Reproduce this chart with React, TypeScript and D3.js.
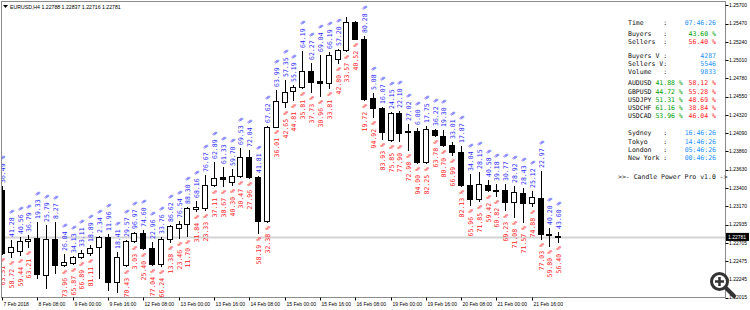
import React from "react";
import * as d3 from "d3";

// ---------- DATA ----------
const opens = [1.23372,1.22591,1.22604,1.22730,1.22768,1.22301,1.22755,1.22427,1.22453,1.22528,1.22579,1.22654,1.22780,1.22213,1.22427,1.22730,1.22831,1.22642,1.22440,1.22755,1.22894,1.22944,1.23139,1.23146,1.23435,1.23536,1.23473,1.23549,1.23788,1.23536,1.22982,1.24166,1.24481,1.24620,1.24670,1.24872,1.24746,1.24721,1.25023,1.25137,1.25490,1.25275,1.24532,1.24406,1.24003,1.24343,1.24116,1.24116,1.23725,1.24129,1.24053,1.23940,1.23851,1.23435,1.23259,1.23435,1.23360,1.23372,1.23221,1.23335,1.23209,1.23272,1.22818,1.22788];
const highs = [1.23423,1.22742,1.22780,1.22805,1.22969,1.22931,1.22969,1.22566,1.22541,1.22616,1.22679,1.22793,1.22818,1.22591,1.22742,1.22843,1.22868,1.22717,1.22780,1.22931,1.22982,1.23158,1.23234,1.23561,1.23725,1.23662,1.23637,1.23902,1.23877,1.23549,1.24179,1.24633,1.24759,1.24696,1.25124,1.24973,1.25074,1.25112,1.25149,1.25553,1.25502,1.25313,1.24595,1.24418,1.24355,1.24368,1.24204,1.24154,1.24179,1.24141,1.24129,1.23977,1.23927,1.23574,1.23599,1.23498,1.23448,1.23448,1.23423,1.23398,1.23360,1.23612,1.22894,1.22837];
const lows = [1.22566,1.22528,1.22553,1.22654,1.22263,1.22137,1.22327,1.22415,1.22440,1.22516,1.22553,1.22263,1.22112,1.22087,1.22415,1.22717,1.22629,1.22427,1.22415,1.22717,1.22768,1.22793,1.23108,1.23120,1.23423,1.23423,1.23435,1.23536,1.23524,1.22831,1.22969,1.24179,1.24418,1.24507,1.24658,1.24607,1.24557,1.24658,1.24973,1.25124,1.25270,1.24507,1.24292,1.24015,1.23990,1.23990,1.23877,1.23712,1.23712,1.24053,1.23927,1.23814,1.23423,1.23183,1.23234,1.23360,1.23297,1.23120,1.23032,1.22969,1.23171,1.22755,1.22667,1.22716];
const closes = [1.22579,1.22654,1.22730,1.22755,1.22314,1.22755,1.22427,1.22465,1.22522,1.22579,1.22642,1.22780,1.22213,1.22528,1.22730,1.22831,1.22642,1.22440,1.22755,1.22919,1.22944,1.23146,1.23152,1.23435,1.23524,1.23511,1.23549,1.23788,1.23536,1.22982,1.24166,1.24494,1.24607,1.24670,1.24872,1.24733,1.24721,1.25074,1.25137,1.25490,1.25275,1.24519,1.24406,1.24103,1.24343,1.24091,1.24103,1.23725,1.24141,1.24066,1.23940,1.23851,1.23435,1.23259,1.23448,1.23372,1.23366,1.23221,1.23347,1.23209,1.23284,1.22818,1.22805,1.22781];
const buyers = [36.49,41.28,40.56,36.79,19.33,25.79,8.27,26.04,34.13,33.11,18.89,2.34,11.96,18.41,29.57,96.97,74.60,22.96,33.76,86.62,76.54,88.30,68.16,76.67,62.89,61.33,59.70,69.53,72.04,41.81,67.62,63.99,57.35,55.19,64.19,62.27,69.04,66.19,57.20,66.43,59.48,80.28,5.08,16.07,24.15,22.10,27.02,6.00,17.75,36.22,19.30,33.01,17.87,34.04,28.15,40.58,39.18,30.77,28.92,28.43,25.12,22.97,40.20,43.60];
const sellers = [63.51,58.72,59.44,63.21,80.67,74.21,91.73,73.96,65.87,66.89,81.11,97.66,88.04,81.59,70.43,3.03,25.40,77.04,66.24,13.38,23.46,11.70,31.84,23.33,37.11,38.67,40.30,30.47,27.96,58.19,32.38,36.01,42.65,44.81,35.81,37.73,30.96,33.81,42.80,33.57,40.52,19.72,94.92,83.93,75.85,77.90,72.98,94.00,82.25,63.78,80.70,66.99,82.13,65.96,71.85,59.42,60.82,69.23,71.08,71.57,74.88,77.03,59.80,56.40];

const priceTicks = [1.25700,1.25470,1.25240,1.25010,1.24780,1.24550,1.24320,1.24090,1.23860,1.23630,1.23400,1.23170,1.22935,1.22705,1.22475,1.22245,1.22015];
const dateLabels = ["7 Feb 2018","8 Feb 08:00","9 Feb 00:00","9 Feb 16:00","12 Feb 08:00","13 Feb 00:00","13 Feb 16:00","14 Feb 08:00","15 Feb 00:00","15 Feb 16:00","16 Feb 08:00","19 Feb 00:00","19 Feb 16:00","20 Feb 08:00","21 Feb 00:00","21 Feb 16:00"];
const dateLabelStep = 4;

const symbolTitle = "EURUSD,H4";
const currentPrice = 1.22781;

const panelTime = "07:46:26";
const panelBuyers = 43.60;
const panelSellers = 56.40;
const panelBuyersV = 4287;
const panelSellersV = 5546;
const panelVolume = 9833;
const pairNames = ["AUDUSD","GBPUSD","USDJPY","USDCHF","USDCAD"];
const pairBuy = [41.88,44.72,51.31,61.16,53.96];
const pairSell = [58.12,55.28,48.69,38.84,46.04];
const sessionNames = ["Sydney","Tokyo","London","New York"];
const sessionTimes = ["16:46:26","14:46:26","05:46:26","00:46:26"];
const footerText = ">>- Candle Power Pro v1.0 ->";

// ---------- LAYOUT ----------
const W = 750, H = 310;
const L = 1.5, R = 725.5, T = 1.5, B = 297.5;
const MONO = "'DejaVu Sans Mono', 'Liberation Mono', monospace";
const SANS = "'Liberation Sans', Arial, sans-serif";
const BLUE = "#2a2aff";
const RED = "#ff1a1a";
const GREEN = "#00a000";
const DBLUE = "#1e90ff";
const LABEL_FS = 6.5;

export default function App() {
  const n = opens.length;
  const x = d3.scaleLinear().domain([0, 63]).range([2, 2 + 8.83 * 63]);
  const y = d3.scaleLinear().domain([1.22015, 1.257]).range([297.7, 5.3]);
  const cw = 0.602 * LABEL_FS;
  const px = 628;
  const colonX = px + 9 * cw;
  const valEnd = 716;

  const fmt = (v: number) => v.toFixed(2) + " %";

  const candles = d3.range(n).map((i) => {
    const cx = Math.round(x(i));
    const o = opens[i], c = closes[i];
    const yTop = Math.round(y(Math.max(o, c)));
    const yBot = Math.round(y(Math.min(o, c)));
    const yH = Math.round(y(highs[i]));
    const yL = Math.round(y(lows[i]));
    const bull = c > o;
    const bTxt = fmt(buyers[i]);
    const sTxt = fmt(sellers[i]);
    const bTop = yH - 3 - bTxt.length * cw;
    const sBot = yL + 4 + sTxt.length * cw;
    return (
      <g key={i}>
        <line x1={cx + 0.5} x2={cx + 0.5} y1={yH} y2={yL + 1} stroke="#000" strokeWidth={1} />
        {yBot - yTop >= 1 ? (
          <rect x={cx - 2.5} y={yTop + 0.5} width={5} height={yBot - yTop} fill={bull ? "#fff" : "#000"} stroke="#000" strokeWidth={1} />
        ) : (
          <line x1={cx - 3} x2={cx + 3} y1={yTop + 0.5} y2={yTop + 0.5} stroke="#000" strokeWidth={1} />
        )}
        {bTop >= T - 1 && (
          <text transform={`translate(${cx + 0.5},${yH - 3}) rotate(-90)`} dy="0.35em" fontFamily={MONO} fontSize={LABEL_FS} fill={BLUE} textAnchor="start">{bTxt}</text>
        )}
        {sBot <= B + 1 && (
          <text transform={`translate(${cx + 0.5},${yL + 4}) rotate(-90)`} dy="0.35em" fontFamily={MONO} fontSize={LABEL_FS} fill={RED} textAnchor="end">{sTxt}</text>
        )}
      </g>
    );
  });

  const rowY = {
    time: 23, buyers: 34, sellers: 42, bv: 56, sv: 64, vol: 72,
    pair0: 83, pairStep: 8.3, sess0: 133, sessStep: 8.3, footer: 177,
  };

  const labelRow = (label: string, value: string, color: string, yy: number, key: string) => (
    <g key={key} fontFamily={MONO} fontSize={LABEL_FS}>
      <text x={px} y={yy} dy="0.35em" fill="#111">{label}</text>
      <text x={colonX} y={yy} dy="0.35em" fill="#111">:</text>
      <text x={valEnd} y={yy} dy="0.35em" fill={color} textAnchor="end">{value}</text>
    </g>
  );

  const cy = y(currentPrice);

  return (
    <svg width={W} height={H} style={{ position: "absolute", left: 0, top: 0, background: "#fff" }}>
      <defs>
        <clipPath id="plot">
          <rect x={L + 0.5} y={T + 0.5} width={R - L - 1} height={B - T - 1} />
        </clipPath>
      </defs>
      <rect x={0} y={0} width={W} height={H} fill="#fff" />

      {/* current price line */}
      <line x1={L} x2={R} y1={Math.round(cy) + 0.5} y2={Math.round(cy) + 0.5} stroke="#d4d4d4" strokeWidth={2} />

      <g clipPath="url(#plot)">{candles}</g>

      {/* frame */}
      <rect x={L} y={T} width={R - L} height={B - T} fill="none" stroke="#8c8c8c" strokeWidth={1} />

      {/* header */}
      <path d="M3,5 L8,5 L5.5,8 Z" fill="#000" />
      <text x={10} y={7} dy="0.35em" fontFamily={SANS} fontSize={5.2} fill="#000">
        {`${symbolTitle}  ${opens[n - 1].toFixed(5)} ${highs[n - 1].toFixed(5)} ${lows[n - 1].toFixed(5)} ${closes[n - 1].toFixed(5)}`}
      </text>

      {/* right axis */}
      {priceTicks.map((p, i) => (
        <g key={i}>
          <line x1={R} x2={R + 3} y1={Math.round(y(p)) + 0.5} y2={Math.round(y(p)) + 0.5} stroke="#000" strokeWidth={1} />
          <text x={729} y={y(p)} dy="0.35em" fontFamily={SANS} fontSize={5} fill="#000">{p.toFixed(5)}</text>
        </g>
      ))}
      <rect x={726} y={cy - 4} width={23} height={8} fill="#000" />
      <text x={728} y={cy} dy="0.35em" fontFamily={SANS} fontSize={5} fill="#fff">{currentPrice.toFixed(5)}</text>

      {/* bottom axis */}
      {dateLabels.map((d, k) => {
        const xx = Math.round(x(k * dateLabelStep)) + 0.5;
        return (
          <g key={k}>
            <line x1={xx} x2={xx} y1={B} y2={B + 3} stroke="#000" strokeWidth={1} />
            <text x={xx + 1} y={304} dy="0.35em" fontFamily={SANS} fontSize={5} fill="#000">{d}</text>
          </g>
        );
      })}

      {/* info panel */}
      {labelRow("Time", panelTime, DBLUE, rowY.time, "t")}
      {labelRow("Buyers", fmt(panelBuyers), GREEN, rowY.buyers, "b")}
      {labelRow("Sellers", fmt(panelSellers), RED, rowY.sellers, "s")}
      {labelRow("Buyers  V", String(panelBuyersV), DBLUE, rowY.bv, "bv")}
      {labelRow("Sellers V", String(panelSellersV), DBLUE, rowY.sv, "sv")}
      {labelRow("Volume", String(panelVolume), DBLUE, rowY.vol, "v")}
      {pairNames.map((p, i) => {
        const yy = rowY.pair0 + i * rowY.pairStep;
        return (
          <g key={p} fontFamily={MONO} fontSize={LABEL_FS}>
            <text x={px} y={yy} dy="0.35em" fill="#111">{p}</text>
            <text x={px + 7 * cw} y={yy} dy="0.35em" fill={GREEN}>{fmt(pairBuy[i])}</text>
            <text x={valEnd} y={yy} dy="0.35em" fill={RED} textAnchor="end">{fmt(pairSell[i])}</text>
          </g>
        );
      })}
      {sessionNames.map((s, i) => labelRow(s, sessionTimes[i], DBLUE, rowY.sess0 + i * rowY.sessStep, "ss" + i))}
      <text x={618} y={rowY.footer} dy="0.35em" fontFamily={MONO} fontSize={LABEL_FS} fill="#111" style={{ whiteSpace: "pre" }}>{footerText}</text>

      {/* zoom icon */}
      <g stroke="#333" fill="none">
        <line x1={726} y1={288} x2={734} y2={296} strokeWidth={4} strokeLinecap="round" />
        <circle cx={719.5} cy={281.5} r={8} strokeWidth={3} fill="#fff" />
        <line x1={715} x2={724} y1={281.5} y2={281.5} strokeWidth={2.5} />
        <line x1={719.5} x2={719.5} y1={277} y2={286} strokeWidth={2.5} />
      </g>
    </svg>
  );
}
